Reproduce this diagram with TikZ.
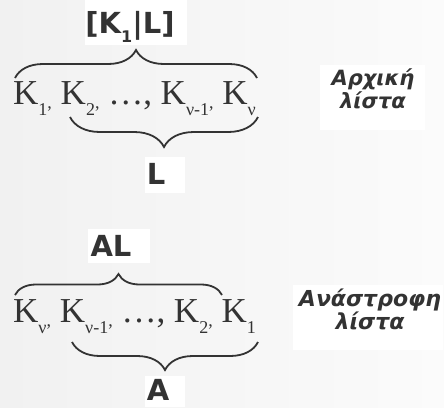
\documentclass[tikz,border=0pt]{standalone}
\usepackage{fontspec}
\setmainfont{Liberation Serif}
\newfontfamily\labelfont{DejaVu Sans}
\usetikzlibrary{decorations.pathreplacing}

\definecolor{ink}{HTML}{333333}
\definecolor{bgleft}{HTML}{F1F1F1}
\definecolor{bgright}{HTML}{FBFBFB}

% list entries: large serif K with lowered small indices
\newcommand\listsz{\fontsize{35}{35}\selectfont}
\newcommand\subsz{\fontsize{18}{18}\selectfont}
\newcommand\ksb[1]{\raisebox{-11pt}{\subsz #1}}
\newcommand\kcm{\raisebox{-4pt}{\subsz ,}}

\tikzset{
  x=1pt, y=1pt,
  listtext/.style={anchor=base west, inner sep=0pt, text=ink, font=\listsz},
  tag/.style={anchor=base, inner sep=0pt, text=ink,
              font=\labelfont\bfseries\fontsize{29}{29}\selectfont},
  caption/.style={inner sep=0pt, text=ink, align=center,
              font=\labelfont\bfseries\itshape\fontsize{21}{23}\selectfont},
  curly/.style={draw=ink, line width=1.8pt, decorate},
  whitebox/.style={fill=white}
}

\begin{document}
\begin{tikzpicture}
  \useasboundingbox (0,0) rectangle (444,-407);
  \shade[left color=bgleft, right color=bgright] (0,0) rectangle (444,-407);

  % white panels behind the labels
  \fill[whitebox] (85,0) rectangle (187,-45);
  \fill[whitebox] (145,-157) rectangle (185,-193);
  \fill[whitebox] (320,-65) rectangle (425,-130);
  \fill[whitebox] (88,-229) rectangle (150,-263);
  \fill[whitebox] (145,-376) rectangle (185,-407);
  \fill[whitebox] (293,-285) rectangle (443,-350);

  % ---- original list ----
  \node[tag] (head) at (130,-33) {[K\raisebox{-9pt}{\fontsize{16}{16}\selectfont 1}|L]};
  \node[listtext] (orig) at (13,-104)
    {K\ksb{1}\kcm\ K\ksb{2}\kcm\ …, K\ksb{ν-1}\kcm\ K\ksb{ν}};
  \node[tag] (tail) at (156,-184) {L};
  \node[caption] (origcap) at (373,-89) {Αρχική\\λίστα};

  \coordinate (ob1) at (15,-78);
  \coordinate (ob2) at (257,-78);
  \coordinate (ut1) at (258,-117);
  \coordinate (ut2) at (70,-117);
  \draw[curly, decoration={brace, amplitude=28pt}] (ob1) -- (ob2);
  \draw[curly, decoration={brace, amplitude=30pt}] (ut1) -- (ut2);

  % ---- reversed list ----
  \node[tag] (rev) at (111,-256) {AL};
  \node[listtext] (revlist) at (13,-322)
    {K\ksb{ν}\kcm\ K\ksb{ν-1}\kcm\ …, K\ksb{2}\kcm\ K\ksb{1}};
  \node[tag] (acc) at (158,-400) {A};
  \node[caption, font=\labelfont\bfseries\itshape\fontsize{22}{23}\selectfont]
    (revcap) at (370,-309) {Ανάστροφη\\λίστα};

  \coordinate (rb1) at (15,-295);
  \coordinate (rb2) at (222,-295);
  \coordinate (rt1) at (258,-342);
  \coordinate (rt2) at (72,-342);
  \draw[curly, decoration={brace, amplitude=21pt}] (rb1) -- (rb2);
  \draw[curly, decoration={brace, amplitude=28pt}] (rt1) -- (rt2);
\end{tikzpicture}
\end{document}
